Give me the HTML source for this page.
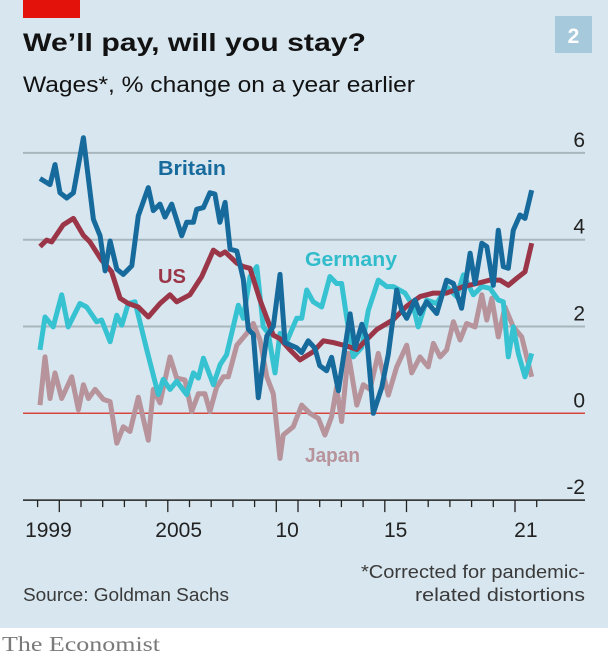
<!DOCTYPE html>
<html><head><meta charset="utf-8"><style>
html,body{margin:0;padding:0;background:#fff;}
svg{display:block;}
</style></head><body>
<svg id="chart" width="608" height="662" viewBox="0 0 608 662" xmlns="http://www.w3.org/2000/svg">
<rect x="0" y="0" width="608" height="628" fill="#d7e6ef"/>
<rect x="0" y="628" width="608" height="34" fill="#ffffff"/>
<rect x="23" y="0" width="57" height="18" fill="#e3120b"/>
<text x="23" y="51" font-family="Liberation Sans, sans-serif" font-weight="bold" font-size="25" fill="#121212" textLength="343" lengthAdjust="spacingAndGlyphs">We’ll pay, will you stay?</text>
<text x="23" y="92" font-family="Liberation Sans, sans-serif" font-size="22" fill="#121212" textLength="392" lengthAdjust="spacingAndGlyphs">Wages*, % change on a year earlier</text>
<rect x="555" y="16" width="37" height="37" fill="#a6c9dc"/>
<text x="573.5" y="43" text-anchor="middle" font-family="Liberation Sans, sans-serif" font-weight="bold" font-size="21" fill="#ffffff">2</text>
<g id="grid"></g>
<g id="series"></g>
<g id="axis"></g>
<text x="158" y="175" font-family="Liberation Sans, sans-serif" font-weight="bold" font-size="20" fill="#176a9c" textLength="68" lengthAdjust="spacingAndGlyphs">Britain</text>
<text x="158" y="283" font-family="Liberation Sans, sans-serif" font-weight="bold" font-size="20" fill="#9b3648" textLength="28" lengthAdjust="spacingAndGlyphs">US</text>
<text x="305" y="266" font-family="Liberation Sans, sans-serif" font-weight="bold" font-size="20" fill="#31bccb" textLength="92" lengthAdjust="spacingAndGlyphs">Germany</text>
<text x="305" y="462" font-family="Liberation Sans, sans-serif" font-weight="bold" font-size="20" fill="#b7939b" textLength="55" lengthAdjust="spacingAndGlyphs">Japan</text>
<text x="585" y="578" text-anchor="end" font-family="Liberation Sans, sans-serif" font-size="18" fill="#3a3a3a" textLength="224" lengthAdjust="spacingAndGlyphs">*Corrected for pandemic-</text>
<text x="585" y="601" text-anchor="end" font-family="Liberation Sans, sans-serif" font-size="18" fill="#3a3a3a" textLength="170" lengthAdjust="spacingAndGlyphs">related distortions</text>
<text x="23" y="601" font-family="Liberation Sans, sans-serif" font-size="18" fill="#3a3a3a" textLength="206" lengthAdjust="spacingAndGlyphs">Source: Goldman Sachs</text>
<text x="2" y="651" font-family="Liberation Serif, serif" font-size="21" fill="#7a7a7a" textLength="158" lengthAdjust="spacingAndGlyphs">The Economist</text>
</svg>
<script>
var yTicks = [6, 4, 2, 0, -2];
var xLabelYears = [1999, 2005, 2010, 2015, 2021];
var xLabels = ["1999", "2005", "10", "15", "21"];

var britainYears = [1999.11,1999.57,1999.80,2000.03,2000.34,2000.65,2001.11,2001.57,2001.88,2002.11,2002.34,2002.65,2002.95,2003.34,2003.64,2004.10,2004.33,2004.64,2004.87,2005.18,2005.64,2005.87,2006.18,2006.33,2006.64,2006.94,2007.17,2007.40,2007.64,2007.87,2008.18,2008.48,2008.71,2008.94,2009.17,2009.56,2009.86,2010.17,2010.40,2010.94,2011.17,2011.47,2011.78,2012.0,2012.32,2012.55,2012.86,2013.40,2013.63,2013.94,2014.17,2014.47,2014.86,2015.16,2015.55,2015.78,2016.01,2016.39,2016.62,2016.93,2017.39,2017.85,2018.16,2018.54,2018.93,2019.16,2019.47,2019.70,2020.0,2020.23,2020.46,2020.69,2020.92,2021.23,2021.46,2021.77];
var britainValues = [5.41,5.27,5.73,5.08,4.96,5.08,6.35,4.47,4.09,3.28,3.97,3.32,3.2,3.4,4.55,5.2,4.67,4.82,4.52,4.82,4.09,4.4,4.4,4.7,4.74,5.08,5.05,4.4,4.86,3.78,3.74,3.09,1.94,1.82,0.36,1.78,2.0,3.2,1.63,1.51,1.4,1.67,1.5,1.1,0.98,1.29,0.52,2.29,1.51,2.05,1.74,0.0,0.6,1.36,2.84,2.38,2.19,2.61,2.3,2.57,2.3,3.07,2.99,2.42,3.69,2.99,3.92,3.84,2.95,4.22,3.38,3.34,4.22,4.57,4.49,5.14];

var usYears = [1999.11,1999.42,1999.65,2000.18,2000.65,2001.11,2001.41,2001.95,2002.41,2002.80,2003.18,2003.64,2004.10,2004.64,2005.10,2005.41,2006.02,2006.56,2007.10,2007.41,2007.64,2008.18,2008.48,2008.79,2009.25,2009.86,2010.17,2010.63,2011.09,2011.70,2012.17,2012.63,2013.24,2013.71,2014.63,2015.39,2016.01,2016.62,2017.24,2017.85,2018.62,2019.24,2019.85,2020.31,2020.69,2021.08,2021.46,2021.77];
var usValues = [3.84,3.99,3.95,4.34,4.49,4.1,3.95,3.53,3.26,2.65,2.53,2.45,2.22,2.53,2.73,2.57,2.73,3.15,3.76,3.65,3.72,3.46,3.38,3.34,2.61,1.8,1.72,1.46,1.23,1.42,1.67,1.63,1.55,1.47,1.93,2.16,2.47,2.69,2.77,2.77,2.92,2.99,3.07,3.07,2.95,3.11,3.26,3.92];

var germanyYears = [1999.11,1999.34,1999.72,2000.11,2000.41,2000.95,2001.26,2001.72,2001.95,2002.34,2002.65,2002.88,2003.18,2003.49,2004.03,2004.56,2004.79,2005.10,2005.41,2005.87,2006.18,2006.41,2006.64,2007.10,2007.41,2007.71,2008.25,2008.48,2008.79,2009.10,2009.40,2009.63,2009.94,2010.17,2010.48,2010.94,2011.17,2011.40,2011.70,2012.09,2012.47,2012.78,2013.01,2013.24,2013.55,2013.94,2014.24,2014.70,2015.09,2015.39,2015.93,2016.31,2016.54,2016.93,2017.39,2017.85,2018.31,2018.62,2019.08,2019.47,2019.85,2020.23,2020.46,2020.69,2020.92,2021.15,2021.46,2021.77];
var germanyValues = [1.46,2.22,1.99,2.73,1.99,2.53,2.45,2.11,2.15,1.65,2.26,2.03,2.53,2.57,1.46,0.43,0.78,0.55,0.74,0.43,0.93,0.81,1.27,0.66,1.12,1.35,2.49,2.19,3.15,3.38,1.99,1.84,0.93,1.84,1.65,2.19,2.19,2.84,2.57,2.45,3.15,2.99,2.99,2.22,1.3,1.52,2.37,3.07,2.92,2.92,2.77,2.47,1.99,2.61,2.53,2.92,2.69,3.19,2.73,2.92,2.88,2.61,2.57,1.3,1.99,1.38,0.84,1.38];

var japanYears = [1999.11,1999.34,1999.57,1999.80,2000.11,2000.57,2000.88,2001.11,2001.34,2001.65,2002.03,2002.34,2002.65,2002.95,2003.26,2003.64,2004.10,2004.33,2004.64,2005.10,2005.41,2005.79,2006.10,2006.41,2006.71,2006.94,2007.25,2007.56,2007.79,2008.18,2008.64,2008.94,2009.25,2009.56,2009.86,2010.17,2010.32,2010.78,2011.17,2011.55,2011.94,2012.24,2012.55,2012.78,2013.01,2013.32,2013.71,2014.01,2014.32,2014.70,2015.16,2015.55,2016.01,2016.24,2016.62,2017.00,2017.24,2017.55,2017.85,2018.16,2018.47,2018.77,2019.16,2019.47,2019.70,2019.93,2020.23,2020.54,2020.92,2021.31,2021.77];
var japanValues = [0.19,1.3,0.34,0.93,0.34,0.84,0.08,0.66,0.34,0.55,0.32,0.27,-0.69,-0.31,-0.42,0.37,-0.62,0.55,0.24,1.3,0.81,0.77,0.04,0.45,0.45,0.04,0.6,0.84,0.84,1.57,1.84,2.07,1.69,0.84,0.45,-1.04,-0.5,-0.31,0.19,0.0,-0.12,-0.5,-0.08,0.6,-0.19,1.38,0.19,0.66,0.55,1.38,0.42,1.07,1.57,0.93,1.3,1.07,1.61,1.3,1.46,2.11,1.69,2.07,1.99,2.73,2.15,2.65,1.76,2.45,1.99,1.76,0.84];

var NS = "http://www.w3.org/2000/svg";
function xScale(yr){ return 37.6 + (yr - 1999) * 21.7; }
function yScale(v){ return 413.3 - v * 43.4; }
function mk(tag, attrs, parent){
  var e = document.createElementNS(NS, tag);
  for (var k in attrs) e.setAttribute(k, attrs[k]);
  parent.appendChild(e);
  return e;
}
var grid = document.getElementById("grid");
var axis = document.getElementById("axis");
var series = document.getElementById("series");

yTicks.forEach(function(t){
  var y = yScale(t);
  if (t > 0) {
    var gl = mk("line", {x1:23, x2:585, y1:y, y2:y, stroke:"#a8b6be", "stroke-width":2}, grid);
    
    
  }
  var lb = mk("text", {x:585, y:y - 6, "text-anchor":"end", "font-family":"Liberation Sans, sans-serif", "font-size":21, fill:"#222"}, axis);
  lb.textContent = String(t).replace("-", "-");
  
  
});

function drawLine(years, values, color, name){
  var d = "";
  for (var i = 0; i < years.length; i++) {
    d += (i ? "L" : "M") + xScale(years[i]).toFixed(1) + "," + yScale(values[i]).toFixed(1);
  }
  var p = mk("path", {d:d, fill:"none", stroke:color, "stroke-width":5, "stroke-linejoin":"round", "stroke-linecap":"butt"}, series);
  
  
}
drawLine(japanYears, japanValues, "#b7939b", "line-japan");
drawLine(germanyYears, germanyValues, "#36c2d1", "line-germany");
drawLine(usYears, usValues, "#9b3648", "line-us");

var zl = mk("line", {x1:23, x2:585, y1:yScale(0), y2:yScale(0), stroke:"#d8453d", "stroke-width":1.5}, grid);



drawLine(britainYears, britainValues, "#176a9c", "line-britain");

var base = mk("line", {x1:23, x2:585, y1:yScale(-2), y2:yScale(-2), stroke:"#222", "stroke-width":1.5}, axis);



var longTicks = [2000, 2005, 2010, 2011, 2015, 2016, 2021];
for (var yr = 1999; yr <= 2022; yr++) {
  var x = xScale(yr);
  var len = longTicks.indexOf(yr) >= 0 ? 12 : 7;
  var tk = mk("line", {x1:x, x2:x, y1:yScale(-2), y2:yScale(-2) + len, stroke:"#222", "stroke-width":1.3}, axis);
  
  
}
xLabelYears.forEach(function(yr, i){
  var t = mk("text", {x:xScale(yr + 0.5), y:537, "text-anchor":"middle", "font-family":"Liberation Sans, sans-serif", "font-size":21, fill:"#222"}, axis);
  t.textContent = xLabels[i];
  
  
});
</script>
</body></html>
